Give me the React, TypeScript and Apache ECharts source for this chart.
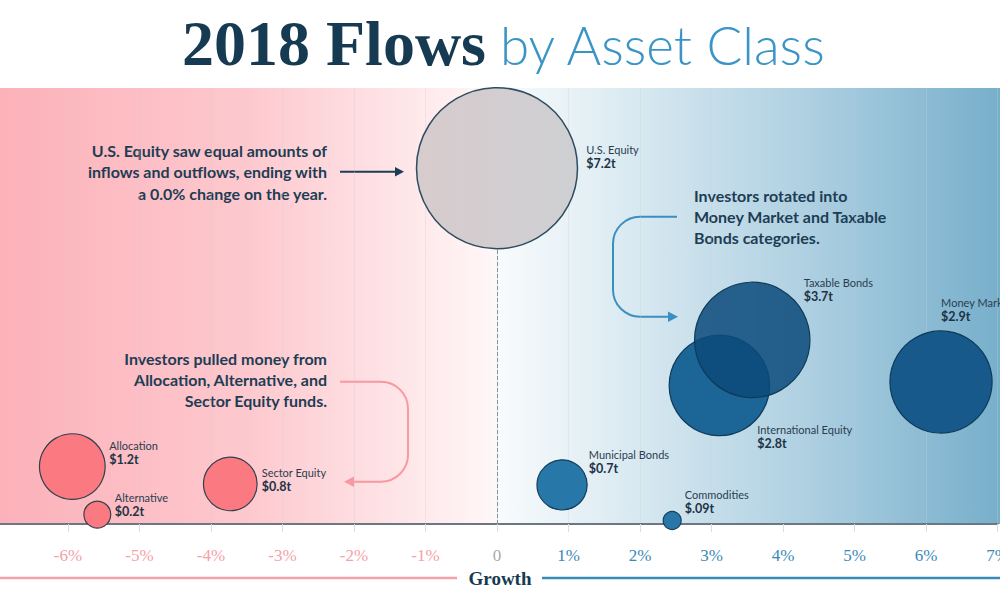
import React, { useEffect, useRef } from "react";
import * as echarts from "echarts";

// ---- data ----
const names = [
  "U.S. Equity",
  "International Equity",
  "Taxable Bonds",
  "Money Market",
  "Allocation",
  "Sector Equity",
  "Municipal Bonds",
  "Alternative",
  "Commodities",
];
const growth = [0, 3.11, 3.57, 6.21, -5.94, -3.73, 0.91, -5.59, 2.45];
const yPos = [7.19, 2.8, 3.72, 2.87, 1.16, 0.81, 0.79, 0.19, 0.07];
const assets = [7.2, 2.8, 3.7, 2.9, 1.2, 0.8, 0.7, 0.2, 0.09];
const valueLabels = ["$7.2t", "$2.8t", "$3.7t", "$2.9t", "$1.2t", "$0.8t", "$0.7t", "$0.2t", "$.09t"];
const xTicks = [-7, -6, -5, -4, -3, -2, -1, 0, 1, 2, 3, 4, 5, 6, 7];

// ---- styles (layout only) ----
const labelOffsets: [number, number][] = [
  [90, -25],
  [38.5, 37.5],
  [52, -64],
  [0.7, -85.5],
  [37.5, -27.5],
  [32, -17.5],
  [27.3, -37],
  [18, -23.5],
  [13.2, -32],
];
const fills: any[] = [
  null,
  "#1b6597",
  "rgba(12,74,124,0.86)",
  "#16598a",
  "#fb7a82",
  "#fb7a82",
  "#2777a8",
  "#fb7a82",
  "#2877a8",
];
const borders = ["#2e4d60", "#0f3a5a", "#0f3a5a", "#0f3a5a", "#33404f", "#33404f", "#163f5e", "#33404f", "#163f5e"];

const arrowBlueD = "M677,216.7 H640 A27,27 0 0 0 613,243.7 V289.7 A27,27 0 0 0 640,316.7 H669";
const arrowPinkD = "M340,381.7 H381 A27,27 0 0 1 408,408.7 V454.7 A27,27 0 0 1 381,481.7 H353";
echarts.graphic.registerShape("arrowBlue", echarts.graphic.extendPath(arrowBlueD, {}));
echarts.graphic.registerShape("arrowPink", echarts.graphic.extendPath(arrowPinkD, {}));

export default function App() {
  const ref = useRef<HTMLDivElement>(null);
  useEffect(() => {
    const chart = echarts.init(ref.current!, null, { renderer: "svg" });
    const usFill = new echarts.graphic.LinearGradient(0, 0, 1, 0, [
      { offset: 0, color: "#d7cbcd" },
      { offset: 1, color: "#ced0d3" },
    ]);
    const data = names.map((n, i) => {
      const size = 60 * Math.sqrt(assets[i]);
      const r = size / 2;
      return {
        name: n,
        value: [growth[i], yPos[i], assets[i]],
        symbolSize: size,
        itemStyle: {
          color: i === 0 ? usFill : fills[i],
          borderColor: borders[i],
          borderWidth: i === 0 ? 1.5 : 1.2,
          opacity: 1,
        },
        label: {
          show: true,
          position: [r + labelOffsets[i][0], r + labelOffsets[i][1]],
          align: "left",
          verticalAlign: "top",
          formatter: () => `{n|${n}}\n{v|${valueLabels[i]}}`,
          rich: {
            n: { fontFamily: "Lato", fontSize: 11, color: "#2b3d50", lineHeight: 14 },
            v: { fontFamily: "Lato", fontWeight: "bold", fontSize: 12.5, color: "#1e3346", lineHeight: 14 },
          },
        },
      };
    });

    const bg = new echarts.graphic.LinearGradient(0, 0, 1, 0, [
      { offset: 0, color: "#fcb1b9" },
      { offset: 0.25, color: "#fdc9ce" },
      { offset: 0.49, color: "#fff6f7" },
      { offset: 0.5, color: "#f8fbfc" },
      { offset: 0.62, color: "#dcebf2" },
      { offset: 0.8, color: "#b0d1e2" },
      { offset: 1, color: "#77afcb" },
    ]);

    const option: any = {
      animation: false,
      grid: { left: -3.5, right: 2.5, top: 88, bottom: 76, outerBoundsMode: "none", containLabel: false },
      xAxis: {
        type: "value",
        min: -7,
        max: 7,
        interval: 1,
        axisLine: { show: true, onZero: false, lineStyle: { color: "#6b7783", width: 2 } },
        axisTick: { show: true, length: 8, lineStyle: { color: "#dcdcdc" } },
        splitLine: { show: true, lineStyle: { color: "rgba(200,205,215,0.3)" } },
        axisLabel: {
          margin: 23,
          formatter: (v: number) => {
            if (!xTicks.includes(v) || v === -7) return "";
            if (v === 0) return "{z|0}";
            return v < 0 ? `{n|${v}%}` : `{p|${v}%}`;
          },
          rich: {
            n: { fontFamily: "Liberation Serif", fontSize: 17, color: "#f6a0a8" },
            z: { fontFamily: "Liberation Serif", fontSize: 17, color: "#a9a9a9" },
            p: { fontFamily: "Liberation Serif", fontSize: 17, color: "#3a8ab8" },
          },
        },
      },
      yAxis: { type: "value", min: 0, max: 8.81, show: false },
      graphic: [
        {
          type: "rect",
          z: -10,
          shape: { x: 0, y: 88, width: 1000, height: 436 },
          style: { fill: bg },
          silent: true,
        },
        {
          type: "text",
          x: 486,
          y: 43,
          style: {
            text: "2018 Flows",
            align: "right",
            verticalAlign: "middle",
            font: "bold 64px 'Liberation Serif'",
            fill: "#153a52",
          },
        },
        {
          type: "text",
          x: 500,
          y: 44,
          style: {
            text: "by Asset Class",
            align: "left",
            verticalAlign: "middle",
            font: "300 53px Lato",
            fill: "#3a95c6",
          },
        },
        {
          type: "text",
          x: 327,
          y: 139.5,
          style: {
            text: "U.S. Equity saw equal amounts of\ninflows and outflows, ending with\na 0.0% change on the year.",
            align: "right",
            verticalAlign: "top",
            font: "bold 16px Lato",
            lineHeight: 21.5,
            fill: "#1d3d55",
          },
        },
        {
          type: "text",
          x: 694,
          y: 184.5,
          style: {
            text: "Investors rotated into\nMoney Market and Taxable\nBonds categories.",
            align: "left",
            verticalAlign: "top",
            font: "bold 16px Lato",
            lineHeight: 21,
            fill: "#1d3d55",
          },
        },
        {
          type: "text",
          x: 327,
          y: 347.8,
          style: {
            text: "Investors pulled money from\nAllocation, Alternative, and\nSector Equity funds.",
            align: "right",
            verticalAlign: "top",
            font: "bold 16px Lato",
            lineHeight: 21,
            fill: "#1d3d55",
          },
        },
        {
          type: "line",
          shape: { x1: 340, y1: 171.7, x2: 396, y2: 171.7 },
          style: { stroke: "#1d3d55", lineWidth: 2 },
        },
        {
          type: "polygon",
          shape: { points: [[404, 171.7], [395, 167], [395, 176.4]] },
          style: { fill: "#1d3d55" },
        },
        {
          type: "arrowBlue",
          x: 0,
          y: 0,
          style: { fill: "none", stroke: "#3b8fc0", lineWidth: 2 },
        },
        {
          type: "polygon",
          shape: { points: [[678, 316.7], [668, 311.5], [668, 321.9]] },
          style: { fill: "#3b8fc0" },
        },
        {
          type: "arrowPink",
          x: 0,
          y: 0,
          style: { fill: "none", stroke: "#f898a0", lineWidth: 2 },
        },
        {
          type: "polygon",
          shape: { points: [[344, 481.7], [354, 476.5], [354, 486.9]] },
          style: { fill: "#f898a0" },
        },
        {
          type: "line",
          shape: { x1: 0, y1: 578, x2: 457, y2: 578 },
          style: { stroke: "#f7a1aa", lineWidth: 2.5 },
        },
        {
          type: "line",
          shape: { x1: 542, y1: 578, x2: 1000, y2: 578 },
          style: { stroke: "#3a8ab8", lineWidth: 2.5 },
        },
        {
          type: "text",
          x: 500,
          y: 578,
          style: {
            text: "Growth",
            align: "center",
            verticalAlign: "middle",
            font: "bold 19px 'Liberation Serif'",
            fill: "#153a52",
          },
        },
      ],
      series: [
        {
          type: "scatter",
          z: 1,
          data: [],
          markLine: {
            silent: true,
            symbol: "none",
            z: 1,
            label: { show: false },
            lineStyle: { type: "dashed", color: "#8a9099", width: 1 },
            data: [{ xAxis: 0 }],
          },
        },
        {
          type: "scatter",
          z: 3,
          clip: false,
          symbol: "circle",
          itemStyle: { opacity: 1 },
          data,
        },
      ],
    };
    chart.setOption(option);
    return () => chart.dispose();
  }, []);
  return (
    <div
      ref={ref}
      style={{ position: "absolute", left: 0, top: 0, width: 1000, height: 600, background: "#fff" }}
    />
  );
}
